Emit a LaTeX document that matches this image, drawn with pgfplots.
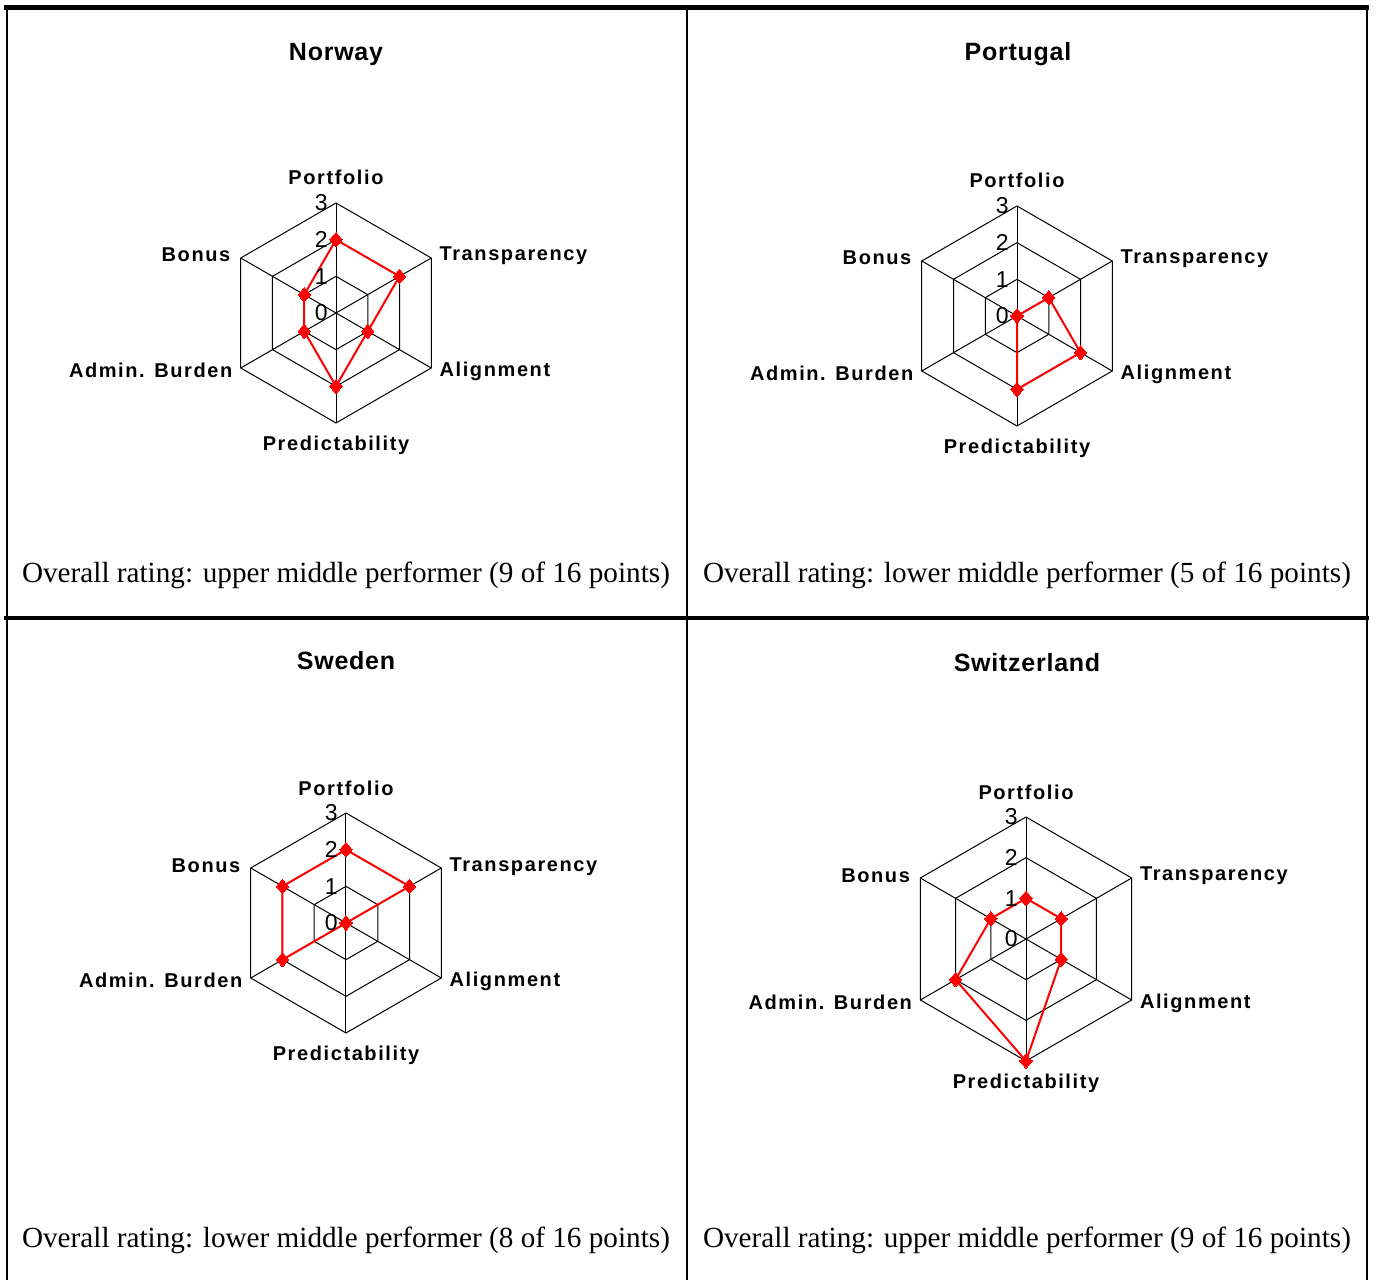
\documentclass[border=0pt]{standalone}
\usepackage{fontspec}
\setmainfont{Liberation Serif}
\newfontfamily\labfont[LetterSpace=8]{Liberation Sans}
\newfontfamily\titfont[LetterSpace=3]{Liberation Sans}
\newfontfamily\numfont{Liberation Sans}
\usepackage{pgfplots}
\pgfplotsset{compat=1.18}
\usepgfplotslibrary{polar}

% angles: Portfolio 90, Transparency 30, Alignment 330,
% Predictability 270, Admin. Burden 210, Bonus 150
\pgfplotsset{
  radar/.style={scale only axis, width=#1, height=#1,
    xmin=0, xmax=360, ymin=0, ymax=3, hide axis, clip=false, anchor=center},
  gridline/.style={black, line width=0.5pt, mark=none},
  score/.style={red, line width=1pt, mark=diamond*, mark size=3.6pt,
    mark options={solid, fill=red, draw=red, line width=0pt, xscale=1.15}},
}
\tikzset{
  lab/.style={font=\labfont\bfseries\fontsize{10}{12}\selectfont, inner sep=0pt},
  num/.style={font=\numfont\fontsize{11.5}{13}\selectfont, inner sep=0pt, anchor=east, xshift=-4pt},
  tit/.style={font=\titfont\bfseries\fontsize{12.5}{14}\selectfont, inner sep=0pt, anchor=base},
  captxt/.style={font=\fontsize{14.6}{16}\selectfont, inner sep=0pt, anchor=base},
}

\newcommand\radargrid{%
  \addplot[gridline] coordinates {(90,1) (30,1) (330,1) (270,1) (210,1) (150,1) (90,1)};
  \addplot[gridline] coordinates {(90,2) (30,2) (330,2) (270,2) (210,2) (150,2) (90,2)};
  \addplot[gridline] coordinates {(90,3) (30,3) (330,3) (270,3) (210,3) (150,3) (90,3)};
  \addplot[gridline] coordinates {(90,3) (270,3)};
  \addplot[gridline] coordinates {(30,3) (210,3)};
  \addplot[gridline] coordinates {(330,3) (150,3)};
}
\newcommand\radarlabels{%
  \node[num] at (axis cs:90,0) {0};
  \node[num] at (axis cs:90,1) {1};
  \node[num] at (axis cs:90,2) {2};
  \node[num] at (axis cs:90,3) {3};
  \node[lab, anchor=base, yshift=9pt] at (axis cs:90,3) {Portfolio};
  \node[lab, anchor=base west, xshift=4pt, yshift=-1.5pt] at (axis cs:30,3) {Transparency};
  \node[lab, anchor=base west, xshift=4pt, yshift=-4.5pt] at (axis cs:330,3) {Alignment};
  \node[lab, anchor=base, yshift=-14pt] at (axis cs:270,3) {Predictability};
  \node[lab, anchor=base east, xshift=-4pt, yshift=-5pt] at (axis cs:210,3) {Admin. Burden};
  \node[lab, anchor=base east, xshift=-5pt, yshift=-2pt] at (axis cs:150,3) {Bonus};
}

\begin{document}
\begin{tikzpicture}[x=1pt, y=1pt]
\useasboundingbox (0,0) rectangle (688.5,640);

% table rules
\draw[line width=2.5pt] (2,636) -- (684.5,636);
\draw[line width=2pt] (2,331) -- (684.5,331);
\draw[line width=0.6pt] (3.5,0) -- (3.5,636);
\draw[line width=0.6pt] (343.5,0) -- (343.5,636);
\draw[line width=0.6pt] (683.5,0) -- (683.5,636);

% Norway
\node[tit] at (168,609.5) {Norway};
\begin{polaraxis}[radar=110pt, at={(168pt,483.5pt)}]
  \radargrid
  \addplot[score] coordinates {(90,2) (30,2) (330,1) (270,2) (210,1) (150,1) (90,2)};
  \radarlabels
\end{polaraxis}
\node[captxt] at (173,348.5) {Overall rating: upper middle performer (9 of 16 points)};

% Portugal
\node[tit] at (509,609.5) {Portugal};
\begin{polaraxis}[radar=110pt, at={(508.5pt,482pt)}]
  \radargrid
  \addplot[score] coordinates {(90,0) (30,1) (330,2) (270,2) (210,0) (150,0) (90,0)};
  \radarlabels
\end{polaraxis}
\node[captxt] at (513.5,348.5) {Overall rating: lower middle performer (5 of 16 points)};

% Sweden
\node[tit] at (173,305) {Sweden};
\begin{polaraxis}[radar=110pt, at={(173pt,178.5pt)}]
  \radargrid
  \addplot[score] coordinates {(90,2) (30,2) (330,0) (270,0) (210,2) (150,2) (90,2)};
  \radarlabels
\end{polaraxis}
\node[captxt] at (173,16) {Overall rating: lower middle performer (8 of 16 points)};

% Switzerland
\node[tit] at (513.5,304) {Switzerland};
\begin{polaraxis}[radar=122pt, at={(513pt,170.5pt)}]
  \radargrid
  \addplot[score] coordinates {(90,1) (30,1) (330,1) (270,3) (210,2) (150,1) (90,1)};
  \radarlabels
\end{polaraxis}
\node[captxt] at (513.5,16) {Overall rating: upper middle performer (9 of 16 points)};
\end{tikzpicture}
\end{document}
